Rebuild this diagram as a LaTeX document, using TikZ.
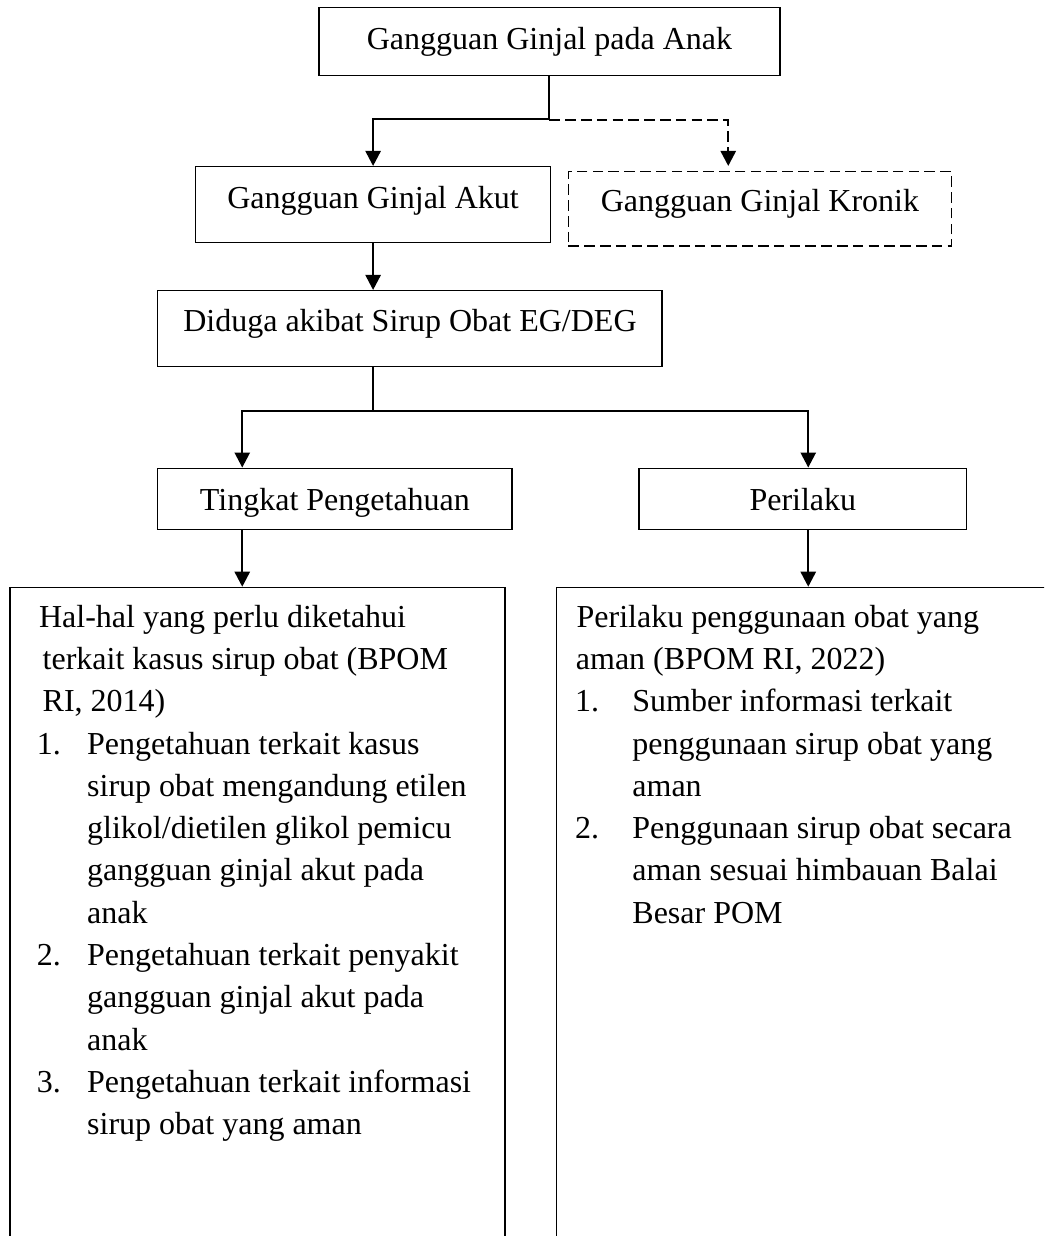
\documentclass[tikz,border=0pt]{standalone}
\usepackage{fontspec}
\setmainfont{Liberation Serif}
\usetikzlibrary{arrows.meta,calc}
\newcommand\numlab[2]{\makebox[#1][l]{#2}}
\begin{document}
\begin{tikzpicture}[x=0.5pt,y=-0.5pt,
  box/.style={draw,line width=0.75pt,inner sep=0pt,anchor=base,font=\fontsize{16pt}{21.15pt}\selectfont},
  dbox/.style={box,dash pattern=on 5.3pt off 2.6pt},
  arr/.style={line width=1pt,-{Triangle[length=7.5pt,width=7.6pt]}},
  dline/.style={dash pattern=on 5.3pt off 2.6pt},
  bigbox/.style={draw,line width=0.75pt,inner sep=0pt,anchor=north west},
  listtext/.style={inner sep=0pt,anchor=north west,align=left,font=\fontsize{16pt}{21.15pt}\selectfont}]
\useasboundingbox (0,0) rectangle (1044,1236);
\clip (0,0) rectangle (1044,1236);

\node[box,minimum width=230.55pt,text height=21.35pt,text depth=12.85pt] (anak) at (549.45,50) {Gangguan Ginjal pada Anak};
\node[box,minimum width=177.4pt,text height=20.8pt,text depth=17.2pt] (akut) at (373.1,208.3) {Gangguan Ginjal Akut};
\node[dbox,minimum width=191.55pt,text height=20pt,text depth=17.15pt] (kronik) at (759.95,211.7) {Gangguan Ginjal Kronik};
\node[box,minimum width=252.25pt,text height=20.5pt,text depth=17.5pt] (duga) at (409.95,331.7) {Diduga akibat Sirup Obat EG/DEG};
\node[box,minimum width=177.25pt,text height=20.85pt,text depth=9.65pt] (tingkat) at (334.95,510) {Tingkat Pengetahuan};
\node[box,minimum width=163.85pt,text height=20.85pt,text depth=9.65pt] (perilaku) at (802.85,510) {Perilaku};
\node[bigbox,minimum width=247.5pt,minimum height=350pt] (kbox) at (9,586.7) {};
\node[bigbox,minimum width=280pt,minimum height=350pt] (pbox) at (555.5,586.7) {};

\node[listtext] (ktext) at (36.5,597.1) {%
\strut\hspace*{1.1pt}Hal-hal yang perlu diketahui\\
\strut\hspace*{2.9pt}terkait kasus sirup obat (BPOM\\
\strut\hspace*{2.9pt}RI, 2014)\\
\strut\numlab{25.15pt}{1.}Pengetahuan terkait kasus\\
\strut\hspace*{25.15pt}sirup obat mengandung etilen\\
\strut\hspace*{25.15pt}glikol/dietilen glikol pemicu\\
\strut\hspace*{25.15pt}gangguan ginjal akut pada\\
\strut\hspace*{25.15pt}anak\\
\strut\numlab{25.15pt}{2.}Pengetahuan terkait penyakit\\
\strut\hspace*{25.15pt}gangguan ginjal akut pada\\
\strut\hspace*{25.15pt}anak\\
\strut\numlab{25.15pt}{3.}Pengetahuan terkait informasi\\
\strut\hspace*{25.15pt}sirup obat yang aman};

\node[listtext] (ptext) at (574.8,597.1) {%
\strut\hspace*{0.7pt}Perilaku penggunaan obat yang\\
\strut\hspace*{0.35pt}aman (BPOM RI, 2022)\\
\strut\numlab{28.6pt}{1.}Sumber informasi terkait\\
\strut\hspace*{28.6pt}penggunaan sirup obat yang\\
\strut\hspace*{28.6pt}aman\\
\strut\numlab{28.6pt}{2.}Penggunaan sirup obat secara\\
\strut\hspace*{28.6pt}aman sesuai himbauan Balai\\
\strut\hspace*{28.6pt}Besar POM};

\coordinate (jd) at ($(anak.south)+(0,44)$);
\coordinate (kt) at ($(kronik.north west)+(160.6,-5)$);
\coordinate (tk) at ($(tingkat.north west)+(85.3,0)$);
\coordinate (pk) at ($(perilaku.north west)+(170,0)$);

\draw[arr] (anak.south) -- ++(0,42.6) -| (akut.north);
\draw[arr,dline] (jd) -| (kt);
\draw[arr] (akut.south) -- (akut.south |- duga.north);
\draw[line width=1pt] (duga.south -| akut.south) -- ++(0,44) coordinate (br);
\draw[arr] (br) -| (tk);
\draw[arr] (br) -| (pk);
\draw[arr] (tk |- tingkat.south) -- (tk |- kbox.north);
\draw[arr] (pk |- perilaku.south) -- (pk |- pbox.north);
\end{tikzpicture}
\end{document}
